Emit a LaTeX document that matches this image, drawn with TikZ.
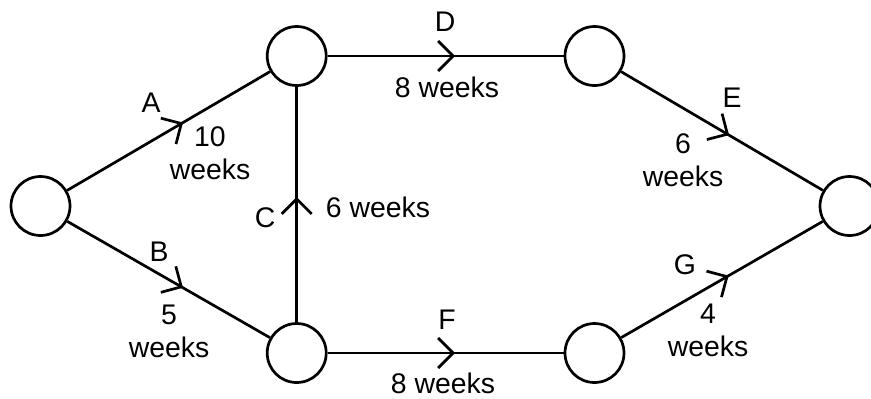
\documentclass[tikz,border=0pt]{standalone}
\usepackage{fontspec}
\setmainfont{Liberation Sans}
\usetikzlibrary{arrows.meta,decorations.markings}
\begin{document}
\begin{tikzpicture}[x=1bp,y=-1bp,
  ev/.style={circle,draw,line width=2.7bp,minimum size=59bp,inner sep=0pt},
  act/.style={line width=2.7bp, postaction={decorate},
    decoration={markings, mark=at position #1 with {\arrow{Straight Barb[length=15bp,width=30bp,line width=2.7bp]}}}},
  lbl/.style={font=\fontsize{28.5}{33}\selectfont, inner sep=0pt, align=center}]
\useasboundingbox (0,0) rectangle (871,398);
\clip (0,0) rectangle (871,398);
\node[ev] (n1) at (40.5,206) {};
\node[ev] (n2) at (296.7,56) {};
\node[ev] (n3) at (296.7,353) {};
\node[ev] (n4) at (594.5,56) {};
\node[ev] (n5) at (594.5,353) {};
\node[ev] (n6) at (849.5,206) {};
\draw[act=0.571] (n1) -- (n2);
\draw[act=0.571] (n1) -- (n3);
\draw[act=0.532] (n3) -- (n2);
\draw[act=0.54] (n2) -- (n4);
\draw[act=0.54] (n3) -- (n5);
\draw[act=0.535] (n4) -- (n6);
\draw[act=0.533] (n5) -- (n6);
\node[lbl] (la) at (151,103) {A};
\node[lbl] (wa) at (210,153) {10\\weeks};
\node[lbl] (lb) at (159,252) {B};
\node[lbl] (wb) at (169,331) {5\\weeks};
\node[lbl] (lc) at (265,218) {C};
\node[lbl] (wc) at (378,207) {6 weeks};
\node[lbl] (ld) at (445,22) {D};
\node[lbl] (wd) at (447,87) {8 weeks};
\node[lbl] (le) at (732,98) {E};
\node[lbl] (we) at (683,160) {6\\weeks};
\node[lbl] (lf) at (447,320) {F};
\node[lbl] (wf) at (443,383) {8 weeks};
\node[lbl] (lg) at (685,265) {G};
\node[lbl] (wg) at (708,330) {4\\weeks};
\end{tikzpicture}
\end{document}
